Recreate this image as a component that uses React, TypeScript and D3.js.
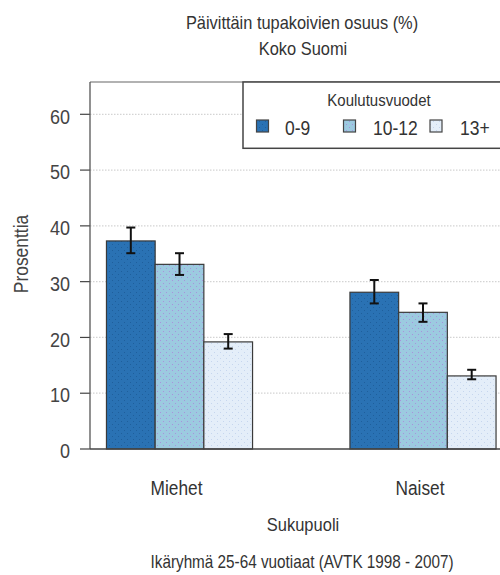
import React from "react";
import * as d3 from "d3";

const categories = ["Miehet", "Naiset"];
const groups = ["0-9", "10-12", "13+"];
const values: number[][] = [
  [37.3, 33.1, 19.2],
  [28.1, 24.5, 13.1],
];
const lower: number[][] = [
  [35.1, 31.2, 18.0],
  [26.1, 22.8, 12.5],
];
const upper: number[][] = [
  [39.7, 35.1, 20.6],
  [30.3, 26.1, 14.2],
];
const yTicks = [0, 10, 20, 30, 40, 50, 60];
const colors = ["#2a72b4", "#9ccae0", "#e4eef9"];
const dotColors = ["#1f5f9c", "#a892dc", "#c6d6ee"];

const W = 500;
const H = 575;
const left = 90;
const right = 512.5;
const top = 82;
const bottom = 449;
const K = 1.15;

function T(props: {
  x: number;
  y: number;
  size: number;
  anchor?: string;
  fill?: string;
  rotate?: number;
  children: React.ReactNode;
}) {
  const { x, y, size, anchor = "middle", fill = "#333", rotate = 0, children } = props;
  return (
    <text
      transform={`translate(${x},${y}) rotate(${rotate}) scale(1,${K})`}
      textAnchor={anchor}
      dy="0.35em"
      fontSize={size}
      fill={fill}
    >
      {children}
    </text>
  );
}

export default function App() {
  const y = d3.scaleLinear().domain([0, 60]).range([bottom, 114.3]);
  const x0 = d3
    .scaleBand<string>()
    .domain(categories)
    .range([left, right])
    .paddingInner(0.4)
    .paddingOuter(0.0676);
  const x1 = d3.scaleBand<string>().domain(groups).range([0, x0.bandwidth()]);
  const font = "'Liberation Sans', Arial, sans-serif";

  return (
    <svg
      width={W}
      height={H}
      style={{ position: "absolute", left: 0, top: 0, fontFamily: font }}
    >
      <defs>
        {groups.map((g, i) => (
          <pattern
            key={g}
            id={`pat${i}`}
            width={6}
            height={6}
            patternUnits="userSpaceOnUse"
          >
            <rect width={6} height={6} fill={colors[i]} />
            <rect x={1} y={1} width={1} height={1} fill={dotColors[i]} />
            <rect x={4} y={4} width={1} height={1} fill={dotColors[i]} />
          </pattern>
        ))}
      </defs>
      <rect width={W} height={H} fill="#fff" />
      <T x={302} y={22.5} size={16.4}>
        Päivittäin tupakoivien osuus (%)
      </T>
      <T x={303} y={48.3} size={16.4}>
        Koko Suomi
      </T>

      {yTicks.map((t) => (
        <g key={t}>
          {t > 0 && (
            <line
              x1={left}
              x2={W}
              y1={y(t)}
              y2={y(t)}
              stroke="#d4d4d4"
              strokeWidth={1.2}
              strokeDasharray="1.5,1.5"
            />
          )}
          <line x1={left - 10} x2={left} y1={y(t)} y2={y(t)} stroke="#444" strokeWidth={1.2} />
          <T x={70} y={y(t) + 2} size={18} anchor="end" fill="#444">
            {t}
          </T>
        </g>
      ))}

      {categories.map((c, ci) =>
        groups.map((g, gi) => {
          const bx = (x0(c) ?? 0) + (x1(g) ?? 0);
          const bw = x1.bandwidth();
          const cx = bx + bw / 2;
          return (
            <g key={c + g}>
              <rect
                x={bx}
                y={y(values[ci][gi])}
                width={bw}
                height={bottom - y(values[ci][gi])}
                fill={`url(#pat${gi})`}
                stroke="#3a3a3a"
                strokeWidth={1.2}
              />
              <line x1={cx} x2={cx} y1={y(lower[ci][gi])} y2={y(upper[ci][gi])} stroke="#111" strokeWidth={2} />
              <line x1={cx - 4.5} x2={cx + 4.5} y1={y(lower[ci][gi])} y2={y(lower[ci][gi])} stroke="#111" strokeWidth={2} />
              <line x1={cx - 4.5} x2={cx + 4.5} y1={y(upper[ci][gi])} y2={y(upper[ci][gi])} stroke="#111" strokeWidth={2} />
            </g>
          );
        })
      )}

      <line x1={left} x2={W} y1={top} y2={top} stroke="#666" strokeWidth={1.2} />
      <line x1={left} x2={left} y1={top} y2={bottom} stroke="#555" strokeWidth={1.3} />
      <line x1={left} x2={W} y1={bottom} y2={bottom} stroke="#444" strokeWidth={1.5} />

      <rect x={243} y={top} width={280} height={148.3 - top} fill="#fff" stroke="#444" strokeWidth={1.5} />
      <T x={379} y={100.3} size={15}>
        Koulutusvuodet
      </T>
      {groups.map((g, i) => {
        const lx = [256.5, 343.5, 430][i];
        const tx = [285, 373, 460][i];
        return (
          <g key={g}>
            <rect x={lx} y={120} width={12} height={12} fill={`url(#pat${i})`} stroke="#444" strokeWidth={1.2} />
            <T x={tx} y={127.5} size={17.5} anchor="start">
              {g}
            </T>
          </g>
        );
      })}

      {categories.map((c) => (
        <T key={c} x={(x0(c) ?? 0) + x0.bandwidth() / 2 - 3} y={488.5} size={17.3}>
          {c}
        </T>
      ))}
      <T x={303} y={524.5} size={16.5}>
        Sukupuoli
      </T>
      <T x={302} y={562} size={15.3}>
        Ikäryhmä 25-64 vuotiaat (AVTK 1998 - 2007)
      </T>
      <T x={20.5} y={254} size={17.4} rotate={-90} fill="#444">
        Prosenttia
      </T>
    </svg>
  );
}
